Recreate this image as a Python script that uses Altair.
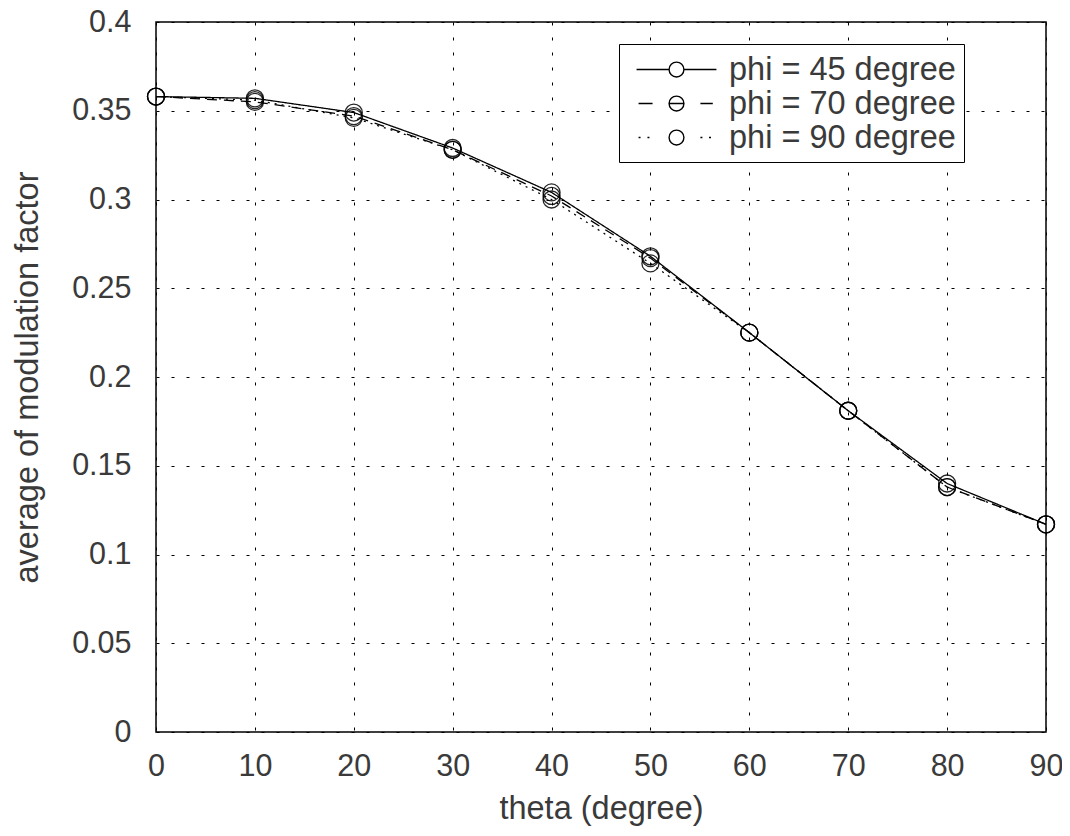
import altair as alt
import pandas as pd

theta = [0, 10, 20, 30, 40, 50, 60, 70, 80, 90]
phi45 = [0.358, 0.357, 0.349, 0.329, 0.304, 0.268, 0.225, 0.181, 0.140, 0.117]
phi70 = [0.358, 0.355, 0.347, 0.328, 0.302, 0.267, 0.225, 0.181, 0.138, 0.117]
phi90 = [0.358, 0.356, 0.346, 0.328, 0.300, 0.264, 0.225, 0.181, 0.138, 0.117]
series_names = ["phi = 45 degree", "phi = 70 degree", "phi = 90 degree"]

rows = []
for name, vals in zip(series_names, [phi45, phi70, phi90]):
    for t, v in zip(theta, vals):
        rows.append({"theta": t, "value": v, "series": name})
df = pd.DataFrame(rows)

FONT = "Liberation Sans"
TXT = "#3a3a3a"

# legend symbols (unit = 16.5 px): line +-2.42, circle radius 0.45
circ = "M-0.45,0A0.45,0.45,0,1,0,0.45,0A0.45,0.45,0,1,0,-0.45,0"
p45 = "M-2.42,0L-0.45,0M0.45,0L2.42,0" + circ
p70 = "M-2.3,0L-1.45,0M-0.45,0L0.45,0M1.45,0L2.2,0" + circ
p90 = "M-2.3,0L-2.18,0M-1.76,0L-1.64,0M1.45,0L1.57,0M1.97,0L2.09,0" + circ
dashes = [[1, 0], [10, 7], [2, 5]]

x_enc = alt.X(
    "theta:Q",
    scale=alt.Scale(domain=[0, 90], nice=False),
    axis=alt.Axis(values=theta, title="theta (degree)", labelFlush=False),
)
y_enc = alt.Y(
    "value:Q",
    scale=alt.Scale(domain=[0, 0.4], nice=False),
    axis=alt.Axis(
        values=[0, 0.05, 0.1, 0.15, 0.2, 0.25, 0.3, 0.35, 0.4],
        format="~g",
        title="average of modulation factor",
        labelFlush=False,
    ),
)

line_layers = [
    alt.Chart(df)
    .transform_filter(alt.datum.series == name)
    .mark_line(color="black", strokeWidth=1.3, strokeDash=dash)
    .encode(x=x_enc, y=y_enc)
    for name, dash in zip(series_names, dashes)
]

points = alt.Chart(df).mark_point(
    shape="circle", size=289, color="black", strokeWidth=1.3, filled=False, opacity=0.85
).encode(x=x_enc, y=y_enc, detail="series:N")

legend_layer = (
    alt.Chart(df)
    .mark_point(color="black", strokeWidth=1.4, filled=False, opacity=0)
    .encode(
        x=x_enc,
        y=y_enc,
        shape=alt.Shape(
            "series:N",
            scale=alt.Scale(domain=series_names, range=[p45, p70, p90]),
            legend=alt.Legend(
                title=None,
                orient="none",
                legendX=463,
                legendY=22,
                symbolSize=1089,
                symbolStrokeWidth=1.4,
                symbolStrokeColor="black",
                symbolFillColor="transparent",
                symbolOpacity=1,
                symbolOffset=32,
                labelFont=FONT,
                labelFontSize=32.5,
                labelColor=TXT,
                labelOffset=35,
                labelLimit=400,
                rowPadding=0,
                padding=8,
                strokeColor="black",
                fillColor="white",
            ),
        ),
    )
)

chart = (
    alt.layer(*line_layers, points, legend_layer)
    .properties(
        width=890,
        height=710,
        autosize=alt.AutoSizeParams(type="none"),
        padding={"left": 148, "top": 14, "right": 16, "bottom": 96},
    )
    .configure_view(stroke="black", strokeWidth=1.5)
    .configure_axis(
        grid=True,
        gridColor="black",
        gridDash=[3, 12],
        gridWidth=1,
        gridOpacity=1,
        domain=False,
        ticks=False,
        labelFont=FONT,
        labelFontSize=30.5,
        labelColor=TXT,
        titleFont=FONT,
        titleFontSize=32.5,
        titleColor=TXT,
        titleFontWeight="normal",
    )
    .configure_axisX(labelPadding=19, titlePadding=11)
    .configure_axisY(labelPadding=25, titlePadding=27)
)

chart.save("out.html", embed_options={"renderer": "svg", "actions": False})
